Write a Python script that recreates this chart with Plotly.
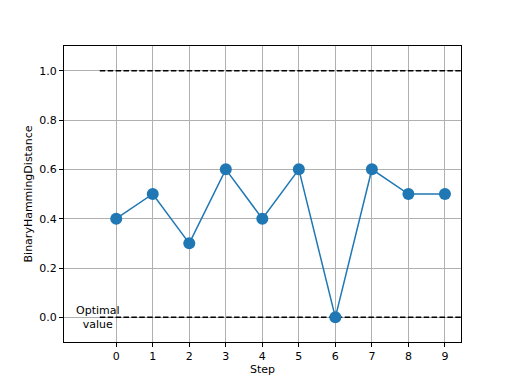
import plotly.graph_objects as go

steps = [0, 1, 2, 3, 4, 5, 6, 7, 8, 9]
distance = [0.4, 0.5, 0.3, 0.6, 0.4, 0.6, 0.0, 0.6, 0.5, 0.5]
ref_x = [-0.45, 9.6]
upper_ref = [1.0, 1.0]
optimal_ref = [0.0, 0.0]
y_ticks = [0.0, 0.2, 0.4, 0.6, 0.8, 1.0]

font = dict(family="DejaVu Sans", size=11, color="black")
dash = "5.5px,2.4px"

fig = go.Figure()
fig.add_trace(go.Scatter(x=ref_x, y=upper_ref, mode="lines",
                         line=dict(color="black", width=1.5, dash=dash), showlegend=False))
fig.add_trace(go.Scatter(x=ref_x, y=optimal_ref, mode="lines",
                         line=dict(color="black", width=1.5, dash=dash), showlegend=False))
fig.add_trace(go.Scatter(x=steps, y=distance, mode="lines+markers",
                         line=dict(color="#1f77b4", width=1.5),
                         marker=dict(color="#1f77b4", size=12), showlegend=False))

fig.add_annotation(x=-0.5, y=0.0, text="Optimal<br>value", showarrow=False,
                   font=font, align="center", xanchor="center", yanchor="middle")

axis_common = dict(showline=True, linecolor="black", linewidth=1, mirror=True,
                   ticks="outside", ticklen=4, tickcolor="black", tickfont=font,
                   showgrid=True, gridcolor="#b0b0b0", gridwidth=1, zeroline=False)

fig.update_xaxes(range=[-1.43, 9.44], tickvals=steps,
                 title=dict(text="Step", font=font, standoff=3), **axis_common)
fig.update_yaxes(range=[-0.1, 1.1], tickvals=y_ticks, tickformat=".1f",
                 title=dict(text="BinaryHammingDistance", font=font, standoff=4), **axis_common)

fig.update_layout(width=512, height=384, margin=dict(l=56, r=59, t=38, b=50),
                  paper_bgcolor="white", plot_bgcolor="white", font=font)

fig.write_html("out.html")
